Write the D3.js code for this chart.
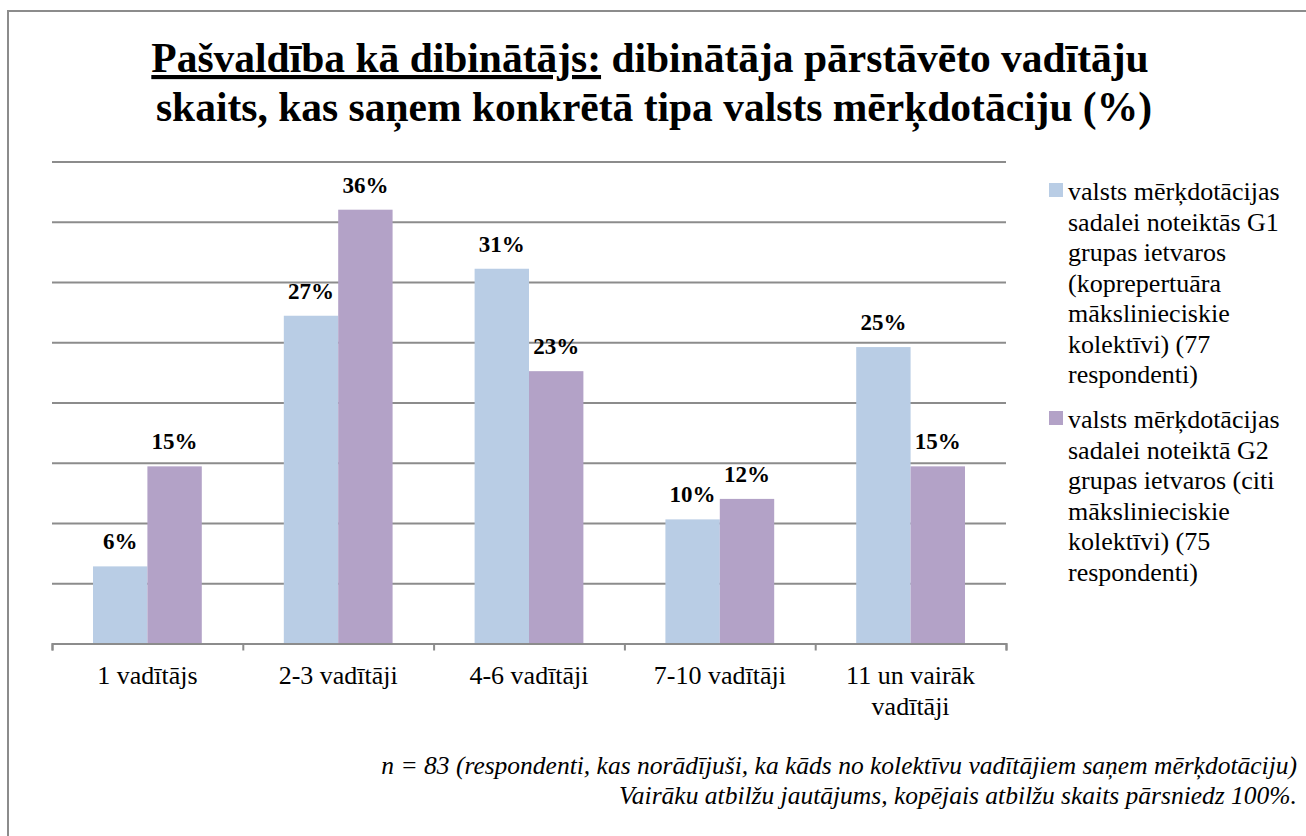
<!DOCTYPE html>
<html>
<head>
<meta charset="utf-8">
<script src="https://cdn.jsdelivr.net/npm/d3@7/dist/d3.min.js"></script>
<style>
  body { margin: 0; background: #fff; }
</style>
</head>
<body>
<svg width="1306" height="836"></svg>
<script>
// Chart data
var categories = ['1 vadītājs', '2-3 vadītāji', '4-6 vadītāji', '7-10 vadītāji', '11 un vairāk vadītāji'];
var g1Values = [6.4, 27.2, 31.1, 10.3, 24.6];
var g2Values = [14.7, 36.0, 22.6, 12.0, 14.7];
var yTicks = [0, 5, 10, 15, 20, 25, 30, 35, 40];

var g1Legend = ['valsts mērķdotācijas', 'sadalei noteiktās G1', 'grupas ietvaros', '(koprepertuāra',
    'mākslinieciskie', 'kolektīvi) (77', 'respondenti)'];
var g2Legend = ['valsts mērķdotācijas', 'sadalei noteiktā G2', 'grupas ietvaros (citi',
    'mākslinieciskie', 'kolektīvi) (75', 'respondenti)'];

var footnotes = ['n = 83 (respondenti, kas norādījuši, ka kāds no kolektīvu vadītājiem saņem mērķdotāciju)',
    'Vairāku atbilžu jautājums, kopējais atbilžu skaits pārsniedz 100%.'];

var series = [
    {key: 'g1', values: g1Values, color: '#b9cde5', legend: g1Legend},
    {key: 'g2', values: g2Values, color: '#b3a2c7', legend: g2Legend}
];

var SERIF = 'Liberation Serif, Tinos, Times New Roman, DejaVu Serif, Noto Serif, serif';

var svg = d3.select('svg').attr('font-family', SERIF);
var svgWidth = +svg.attr('width');
var svgHeight = +svg.attr('height');

// outer frame (runs off the right and bottom edges like the source)
svg.append('rect')
    .attr('x', 8).attr('y', 11)
    .attr('width', svgWidth + 20).attr('height', svgHeight + 20)
    .attr('fill', '#fff')
    .attr('stroke', '#8c8c8c')
    .attr('stroke-width', 2);

// title
var title = svg.append('text')
    .attr('text-anchor', 'middle')
    .attr('font-size', 41.5)
    .attr('font-weight', 'bold');
var t1 = title.append('tspan').attr('x', 650).attr('y', 72);
t1.append('tspan').style('text-decoration', 'underline').text('Pašvaldība kā dibinātājs:');
t1.append('tspan').text(' dibinātāja pārstāvēto vadītāju');
title.append('tspan').attr('x', 654).attr('y', 121)
    .text('skaits, kas saņem konkrētā tipa valsts mērķdotāciju (%)');

// plot area
var plot = {l: 52, r: 1006, t: 161.5, b: 643.5};

var x0 = d3.scaleBand()
    .domain(categories)
    .range([plot.l, plot.r])
    .padding(0);

var x1 = d3.scaleBand()
    .domain(series.map(function(s) { return s.key; }))
    .range([0, x0.bandwidth()])
    .paddingInner(0)
    .paddingOuter(0.754);

var y = d3.scaleLinear()
    .domain([0, 40])
    .range([plot.b, plot.t]);

// gridlines
var grid = svg.append('g')
    .attr('transform', 'translate(' + plot.l + ',0)')
    .call(d3.axisLeft(y).tickValues(yTicks).tickSize(-(plot.r - plot.l)).tickFormat(''));
grid.select('.domain').remove();
grid.selectAll('line').attr('stroke', '#8c8c8c').attr('stroke-width', 2);

// bars
var groups = svg.append('g').selectAll('g.cat')
    .data(categories)
    .enter().append('g')
    .attr('class', 'cat')
    .attr('transform', function(d) { return 'translate(' + x0(d) + ',0)'; });

groups.selectAll('rect')
    .data(function(d, i) {
        return series.map(function(s) { return {key: s.key, value: s.values[i], color: s.color}; });
    })
    .enter().append('rect')
    .attr('x', function(d) { return x1(d.key); })
    .attr('y', function(d) { return y(d.value); })
    .attr('width', x1.bandwidth())
    .attr('height', function(d) { return y(0) - y(d.value); })
    .attr('fill', function(d) { return d.color; });

// value labels
groups.selectAll('text.value')
    .data(function(d, i) {
        return series.map(function(s) { return {key: s.key, value: s.values[i]}; });
    })
    .enter().append('text')
    .attr('class', 'value')
    .attr('x', function(d) { return x1(d.key) + x1.bandwidth() / 2; })
    .attr('y', function(d) { return y(d.value) - 17; })
    .attr('text-anchor', 'middle')
    .attr('font-size', 23)
    .attr('font-weight', 'bold')
    .text(function(d) { return Math.round(d.value) + '%'; });

// x axis: line with boundary ticks
var xEdges = d3.scaleLinear().domain([0, categories.length]).range([plot.l, plot.r]);
var xAxisG = svg.append('g')
    .attr('transform', 'translate(0,' + plot.b + ')')
    .call(d3.axisBottom(xEdges).ticks(categories.length).tickSize(7).tickSizeOuter(7).tickFormat(''));
xAxisG.selectAll('line, path').attr('stroke', '#8c8c8c').attr('stroke-width', 2);

// category labels (wrapped)
var catLabels = svg.append('g')
    .attr('transform', 'translate(0,' + plot.b + ')')
    .call(d3.axisBottom(x0).tickSize(0).tickPadding(0));
catLabels.attr('font-family', SERIF).attr('font-size', 26);
catLabels.select('.domain').remove();
catLabels.selectAll('text')
    .attr('fill', '#000')
    .attr('dy', null)
    .attr('y', 40)
    .each(function(d) {
        var el = d3.select(this);
        var words = d.split(' ');
        var lines = [];
        var line = [];
        el.text(null);
        var probe = el.append('tspan');
        words.forEach(function(w) {
            line.push(w);
            probe.text(line.join(' '));
            if (probe.node().getComputedTextLength() > x0.bandwidth() - 20 && line.length > 1) {
                line.pop();
                lines.push(line.join(' '));
                line = [w];
            }
        });
        lines.push(line.join(' '));
        probe.remove();
        lines.forEach(function(l, i) {
            el.append('tspan').attr('x', 0).attr('y', 40 + i * 31).text(l);
        });
    });

// legend
var legendY = [200, 428];
series.forEach(function(s, si) {
    var lg = svg.append('g').attr('transform', 'translate(1049,' + legendY[si] + ')');
    lg.append('rect')
        .attr('x', 0).attr('y', -17)
        .attr('width', 14).attr('height', 14)
        .attr('fill', s.color);
    lg.append('text')
        .attr('font-size', 26)
        .selectAll('tspan')
        .data(s.legend)
        .enter().append('tspan')
        .attr('x', 19)
        .attr('y', function(d, i) { return i * 30.5; })
        .text(function(d) { return d; });
});

// footnote
svg.append('text')
    .attr('text-anchor', 'end')
    .attr('font-size', 25.5)
    .attr('font-style', 'italic')
    .selectAll('tspan')
    .data(footnotes)
    .enter().append('tspan')
    .attr('x', 1297)
    .attr('y', function(d, i) { return 774 + i * 30; })
    .text(function(d) { return d; });
</script>
</body>
</html>
